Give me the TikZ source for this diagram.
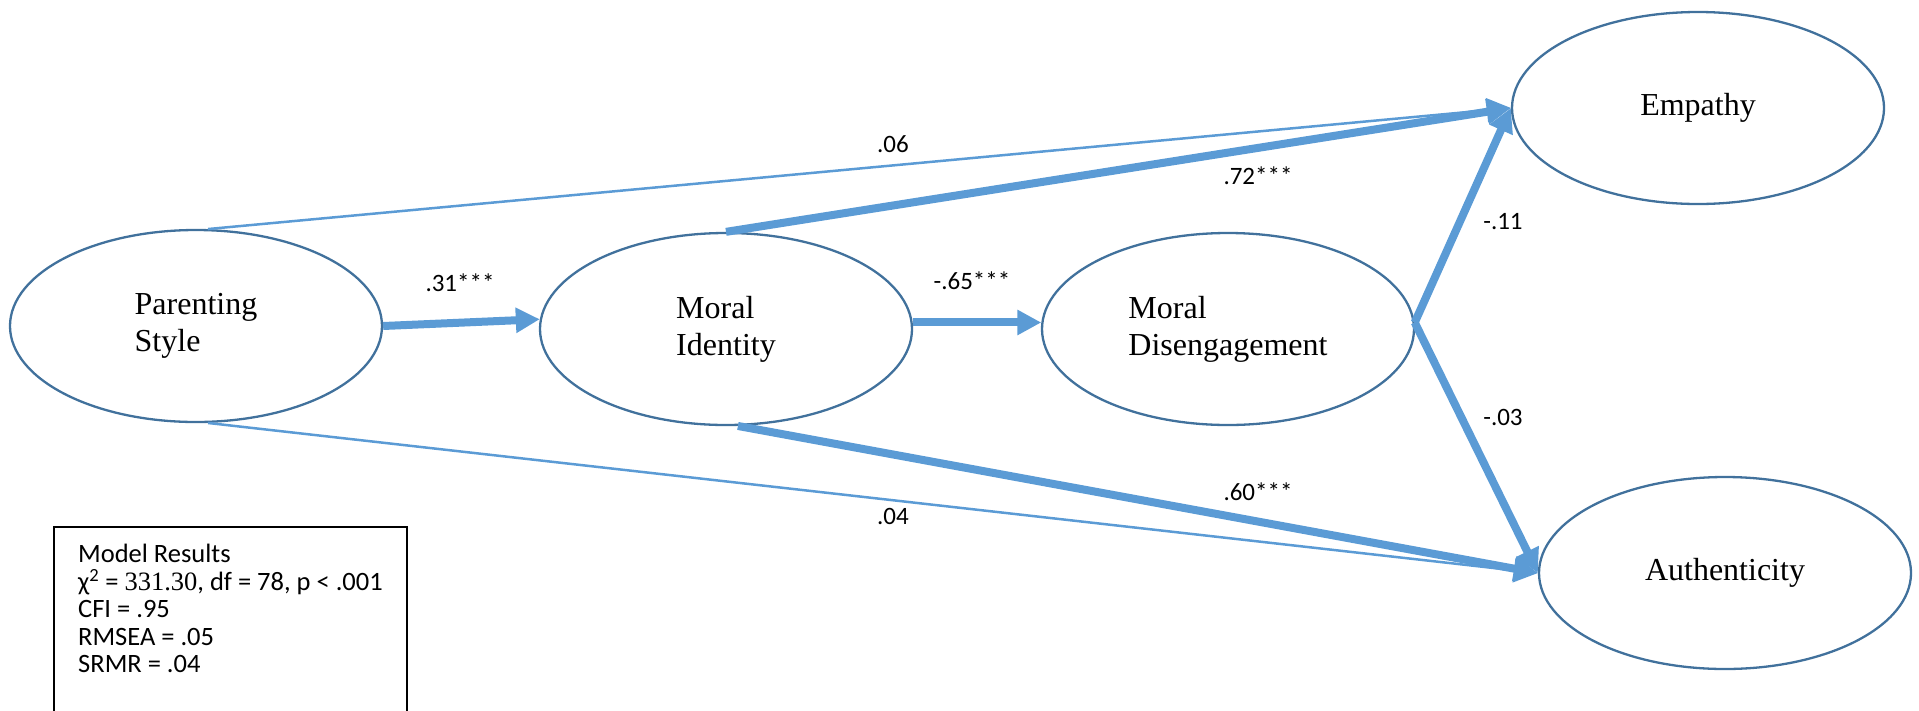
\documentclass[tikz,border=0pt]{standalone}
\usepackage{fontspec}
\setmainfont{Liberation Serif}
\newfontfamily\calibri{Carlito}
\usepackage{xcolor}
\definecolor{arrowblue}{HTML}{5B9BD5}
\definecolor{rimblue}{HTML}{41719C}
\usetikzlibrary{shapes.geometric,arrows.meta}

\begin{document}
\begin{tikzpicture}[x=1pt,y=-1pt,
		latent/.style={ellipse,draw=rimblue,line width=2.3pt,minimum width=372pt,minimum height=192pt,inner sep=0pt,align=left,font=\fontsize{32}{37}\selectfont},
		path/.style={draw=arrowblue,line width=8pt,-{Triangle[length=24pt,width=24pt]}},
		weak/.style={path,line width=2.5pt},
		coef/.style={font=\calibri\fontsize{25}{30}\selectfont,inner sep=0pt},
		results/.style={anchor=north west,align=left,minimum width=349pt,inner xsep=24pt,inner ysep=17pt,font=\calibri\fontsize{26.5}{27.5}\selectfont},
		frame/.style={draw=black,line width=1.2pt}]
		\clip (0,0) rectangle (1919,710);
		\node[latent] (ps) at (196,326) {Parenting\\Style};
		\node[latent] (mi) at (726,329) {Moral\\Identity};
		\node[latent] (md) at (1228,329) {Moral\\Disengagement};
		\node[latent] (emp) at (1698,108) {Empathy};
		\node[latent] (auth) at (1725,573) {Authenticity};
		% paths
		\draw[weak] (ps.83) -- (emp.west);
		\draw[weak] (ps.-83) -- (auth.west);
		\draw[path] (ps.east) -- (mi.177);
		\draw[path] (mi.2) -- (md.178);
		\draw[path] (mi.north) -- (emp.west);
		\draw[path] (mi.-83) -- (auth.west);
		\draw[path] (md.2) -- (emp.west);
		\draw[path] (md.2) -- (auth.west);
		% coefficients
		\node[coef] (c1) at (893,144) {.06};
		\node[coef] (c2) at (460,283) {.31***};
		\node[coef] (c3) at (972,281) {-.65***};
		\node[coef] (c4) at (1258,176) {.72***};
		\node[coef] (c5) at (1503,222) {-.11};
		\node[coef] (c6) at (1503,417) {-.03};
		\node[coef] (c7) at (1258,492) {.60***};
		\node[coef] (c8) at (893,516) {.04};
		% fit box
		\node[results] (fit) at (54,527) {Model Results\\
			χ\textsuperscript{2} = {\rmfamily 331.30}, df = 78, p < .001\\
			CFI = .95\\
			RMSEA = .05\\
			SRMR = .04};
		\draw[frame] (fit.north west) rectangle ([yshift=-40pt]fit.south east);
	\end{tikzpicture}
\end{document}
